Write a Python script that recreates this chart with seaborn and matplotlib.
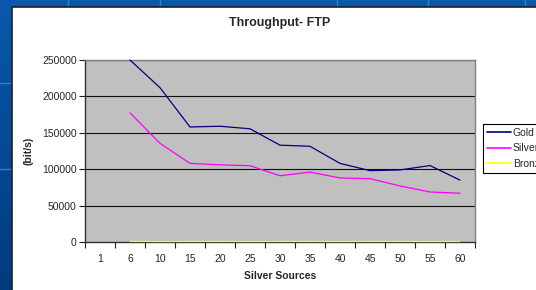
import numpy as np
import pandas as pd
import matplotlib
matplotlib.use("Agg")
import matplotlib.pyplot as plt
from matplotlib.patches import Rectangle
import seaborn as sns

# chart data
sources = ["1", "6", "10", "15", "20", "25", "30", "35", "40", "45", "50", "55", "60"]
gold = [np.nan, 250000, 212000, 158000, 159000, 155500, 133000, 131500, 108000, 98000, 99000, 105000, 85000]
silver = [np.nan, 177500, 135500, 108000, 106000, 104800, 91000, 96000, 88000, 87000, 77000, 68700, 67000]
bronze = [np.nan, 800, 600, 700, 700, 600, 700, 700, 600, 700, 700, 600, 700]
series_names = ["Gold", "Silver", "Bronze"]
series_colors = ["#000080", "#ff00ff", "#ffff00"]
y_ticks = [0, 50000, 100000, 150000, 200000, 250000]

# long table for seaborn
rows = []
for name, vals in zip(series_names, [gold, silver, bronze]):
    for i, v in enumerate(vals):
        rows.append({"pos": i, "value": v, "series": name})
df = pd.DataFrame(rows)

sns.set_theme(style="white")
plt.rcParams["font.family"] = ["Liberation Sans", "DejaVu Sans"]

W, H = 536, 290
fig = plt.figure(figsize=(W / 100, H / 100), dpi=100)

# slide background: blue gradient
bg = fig.add_axes([0, 0, 1, 1], zorder=-10)
grad = np.linspace(0, 1, 256).reshape(-1, 1)
cmap = matplotlib.colors.LinearSegmentedColormap.from_list("slide", ["#0a58ad", "#003b7e"])
bg.imshow(grad, aspect="auto", cmap=cmap, extent=[0, 1, 0, 1])
for x in [68 / W, 160 / W, 337 / W, 428 / W, 525 / W]:
    bg.axvline(x, ymin=1 - 7 / H, ymax=1, color="#3a7cc4", lw=1)
bg.axhline(1 - 83 / H, xmin=0, xmax=12 / W, color="#3a7cc4", lw=1)
bg.axhline(1 - 169 / H, xmin=0, xmax=12 / W, color="#3a7cc4", lw=1)
bg.set_xlim(0, 1)
bg.set_ylim(0, 1)
bg.axis("off")

# white chart area
fig.patches.append(Rectangle((12 / W, -0.01), 1.0, 1 - 7 / H + 0.01, transform=fig.transFigure,
                             facecolor="white", edgecolor="#202020", lw=1.2, zorder=-5))

ax = fig.add_axes([85 / W, 48 / H, 390 / W, 182 / H])
ax.set_facecolor("#c0c0c0")

sns.lineplot(data=df, x="pos", y="value", hue="series", hue_order=series_names,
             palette=series_colors, sort=False, linewidth=0.9, ax=ax, legend=True,
             zorder=3, clip_on=False)

ax.set_xlim(-0.5, len(sources) - 0.5)
ax.set_ylim(0, 250000)
ax.set_yticks(y_ticks)
ax.set_yticklabels([str(t) for t in y_ticks], fontsize=7.5)
ax.set_xticks(range(len(sources)))
ax.set_xticklabels(sources, fontsize=7.5)
ax.set_xticks(np.arange(-0.5, len(sources)), minor=True)
ax.tick_params(axis="x", which="major", length=0, pad=9)
ax.tick_params(axis="x", which="minor", length=4, width=0.8, color="#202020", direction="out", bottom=True)
ax.tick_params(axis="y", length=4, width=0.8, color="#202020", direction="out", left=True, pad=2)
for y in y_ticks[1:]:
    ax.axhline(y, color="#111111", lw=0.8, zorder=0.5)

for side in ["top", "right"]:
    ax.spines[side].set_color("#808080")
    ax.spines[side].set_linewidth(1.0)
for side in ["left", "bottom"]:
    ax.spines[side].set_color("#303030")
    ax.spines[side].set_linewidth(1.0)

ax.set_xlabel("Silver Sources", fontsize=7.5, fontweight="bold", labelpad=5)
ax.set_ylabel("(bit/s)", fontsize=7.5, fontweight="bold", labelpad=6)
fig.text(280 / W, 1 - 23 / H, "Throughput- FTP", ha="center", va="center",
         fontsize=9, fontweight="bold")

handles, labels = ax.get_legend_handles_labels()
leg = ax.legend(handles, labels, loc="upper left", bbox_to_anchor=(483 / W, 1 - 124 / H),
                bbox_transform=fig.transFigure, fontsize=7.5, frameon=True, fancybox=False,
                edgecolor="black", framealpha=1, borderpad=0.35, handlelength=2.3,
                handletextpad=0.2, labelspacing=0.55, borderaxespad=0)
leg.get_frame().set_linewidth(0.8)
for line in leg.get_lines():
    line.set_linewidth(1.2)

fig.savefig("out.png", dpi=100)
